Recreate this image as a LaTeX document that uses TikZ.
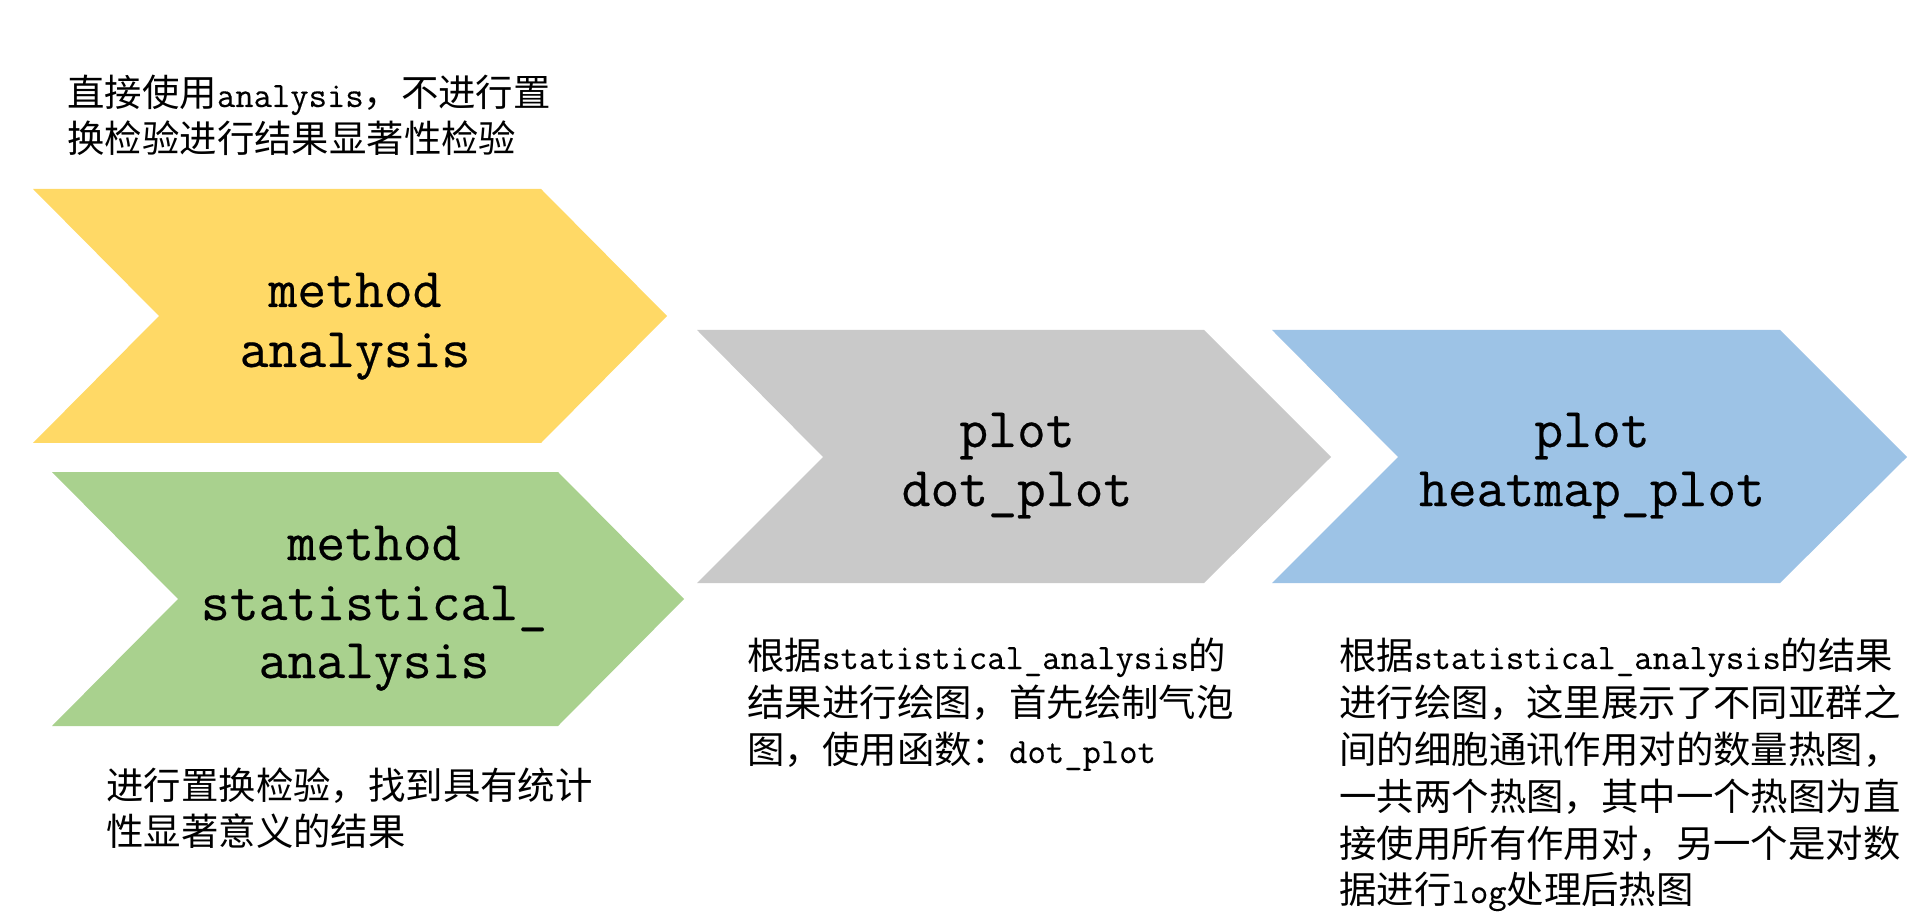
\documentclass[tikz,border=0pt]{standalone}
\usepackage{fontspec}
\setmainfont{Noto Sans CJK SC}
\newfontfamily\monofam[FakeBold=0.3]{Latin Modern Mono}
\newfontfamily\monobig[FakeBold=0.4]{Latin Modern Mono}
\newcommand\mymono[1]{{\monofam\fontsize{17.8pt}{23.4pt}\selectfont #1}}
\definecolor{cyel}{HTML}{FFD966}
\definecolor{cgrn}{HTML}{A9D18E}
\definecolor{cgry}{HTML}{C9C9C9}
\definecolor{cblu}{HTML}{9DC3E6}
\begin{document}
\begin{tikzpicture}[x=0.5pt,y=-0.5pt,
  big/.style={inner sep=0pt, anchor=base, font=\monobig\fontsize{28pt}{30pt}\selectfont},
  note/.style={inner sep=0pt, anchor=base west, font=\fontsize{18.7pt}{23.4pt}\selectfont}]
\useasboundingbox (0,0) rectangle (1925,924);
% chevrons
\fill[cyel] (33,189) -- (541,189) -- (667,316) -- (541,443) -- (33,443) -- (159,316) -- cycle;
\fill[cgrn] (52,472) -- (558,472) -- (684,599) -- (558,726) -- (52,726) -- (178,599) -- cycle;
\fill[cgry] (697,330) -- (1204,330) -- (1331,457) -- (1204,583) -- (697,583) -- (823,457) -- cycle;
\fill[cblu] (1272,330) -- (1780,330) -- (1907,457) -- (1780,583) -- (1272,583) -- (1398,457) -- cycle;
% chevron labels
\node[big] (y1) at (355,307) {method};
\node[big] (y2) at (355,367) {analysis};
\node[big] (g1) at (374,560) {method};
\node[big] (g2) at (374,620) {statistical\_};
\node[big] (g3) at (374,678) {analysis};
\node[big] (r1) at (1017,447) {plot};
\node[big] (r2) at (1017,506) {dot\_plot};
\node[big] (b1) at (1592,447) {plot};
\node[big] (b2) at (1592,506) {heatmap\_plot};
% notes
\node[note] (ny1) at (67,107) {直接使用\mymono{analysis}，不进行置};
\node[note] (ny2) at (67,153) {换检验进行结果显著性检验};
\node[note] (ng1) at (106,799) {进行置换检验，找到具有统计};
\node[note] (ng2) at (106,845) {性显著意义的结果};
\node[note] (nr1) at (747,669) {根据\mymono{statistical\_analysis}的};
\node[note] (nr2) at (747,716) {结果进行绘图，首先绘制气泡};
\node[note] (nr3) at (747,763) {图，使用函数：\mymono{dot\_plot}};
\node[note] (nb1) at (1339,669) {根据\mymono{statistical\_analysis}的结果};
\node[note] (nb2) at (1339,716) {进行绘图，这里展示了不同亚群之};
\node[note] (nb3) at (1339,763) {间的细胞通讯作用对的数量热图，};
\node[note] (nb4) at (1339,810) {一共两个热图，其中一个热图为直};
\node[note] (nb5) at (1339,857) {接使用所有作用对，另一个是对数};
\node[note] (nb6) at (1339,903) {据进行\mymono{log}处理后热图};
\end{tikzpicture}
\end{document}
